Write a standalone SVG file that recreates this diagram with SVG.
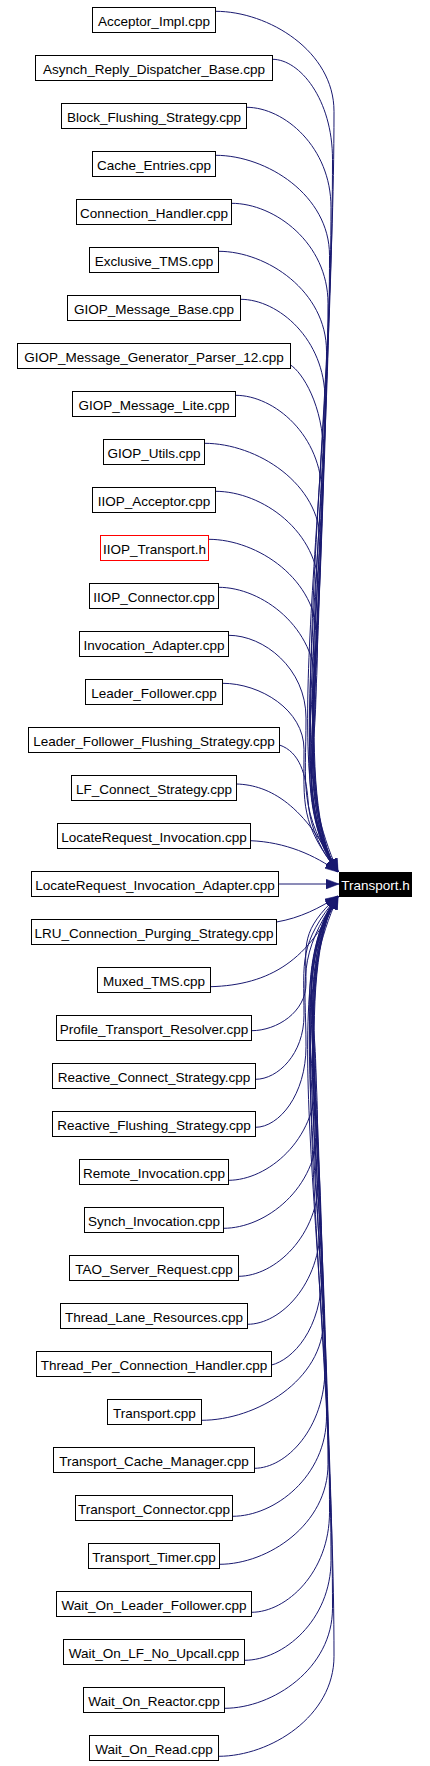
<svg xmlns="http://www.w3.org/2000/svg" width="430" height="1766" viewBox="0 0 430 1766">
<defs>
<style>
.n rect{fill:#fff;stroke:#000;stroke-width:1}
.n.red rect{stroke:#f00}
.n.root rect{fill:#000;stroke:#000}
.n text{font-family:"Liberation Sans",Arial,sans-serif;font-size:13.5px;text-anchor:middle;fill:#000}
.n.root text{fill:#fff}
.e path{fill:none;stroke:#191970;stroke-width:1;marker-end:url(#arr)}
</style>
<marker id="arr" markerUnits="userSpaceOnUse" markerWidth="13" markerHeight="10" viewBox="0 0 12 9" refX="12" refY="4.5" orient="auto">
<path d="M0,0 L12,4.5 L0,9 z" fill="#191970" stroke="#191970" stroke-width="0.5"/>
</marker>
</defs>
<rect width="430" height="1766" fill="#fff"/>
<g id="edges" class="e">
<path d="M215.5,11.3 C268.7,11.3 334,51.3 334,111.3 C334,453.6 278,800 338,872"/>
<path d="M272.5,59.3 C299.7,59.3 332.5,99.3 332.5,159.3 C332.5,480 284,800 338,872"/>
<path d="M246.5,107.3 C284.4,107.3 331,147.3 331,207.3 C331,506.4 274,800 338,872"/>
<path d="M215.5,155.3 C266.9,155.3 329.5,195.3 329.5,255.3 C329.5,532.8 288,800 338,872"/>
<path d="M231.5,203.3 C275,203.3 328,243.3 328,303.3 C328,559.2 280,800 338,872"/>
<path d="M218.5,251.3 C267,251.3 326.5,291.3 326.5,351.3 C326.5,585.6 292,800 338,872"/>
<path d="M240.5,299.3 C278.5,299.3 325,339.3 325,399.3 C325,612 284,800 338,872"/>
<path d="M290.5,365 C302,372 323.5,405 323.5,455 C323.5,642.7 290,800 338,872"/>
<path d="M235.5,395.3 C274.3,395.3 322,435.3 322,495.3 C322,664.8 294,800 338,872"/>
<path d="M204.5,443.3 C256.6,443.3 320.5,483.3 320.5,543.3 C320.5,691.2 286,800 338,872"/>
<path d="M215.5,491.3 C262,491.3 319,531.3 319,591.3 C319,717.6 292,800 338,872"/>
<path d="M208.5,539.3 C257.5,539.3 317.5,579.3 317.5,639.3 C317.5,744 298,779 338,872"/>
<path d="M218.5,587.3 C262,587.3 316,627.3 316,687.3 C316,770.4 296,798 338,872"/>
<path d="M228.5,635.3 C264,635.3 306,668.4 306,718 C306,787 298,810 338,872"/>
<path d="M222.5,683.3 C260,683.3 304,709.7 304,749.3 C304,804.3 300,823 338,872"/>
<path d="M279.5,745 C300,752 306,775 308,800 C310,830 322,852 338,872"/>
<path d="M236.5,784 C270,785 305,805 338,872"/>
<path d="M250.5,840.7 C285,842 315,855 338,872"/>
<path d="M278.5,884 L339,884"/>
<path d="M276.5,922 C300,918 320,908 338,896"/>
<path d="M210.5,986.7 C270,985 310,960 338,896"/>
<path d="M251.5,1030.7 C277,1030.7 306,1011.9 306,983.7 C306,944.2 300,931 338,896"/>
<path d="M255.5,1079.3 C278,1079.3 304,1053.7 304,1015.3 C304,961.6 298,944 338,896"/>
<path d="M255.5,1127.3 C279,1127.3 306,1094.9 306,1046.3 C306,978.7 296,956 338,896"/>
<path d="M228.5,1180.3 C267.4,1180.3 316,1140.3 316,1080.3 C316,997.4 296,969.7 338,896"/>
<path d="M223.5,1228.3 C265.7,1228.3 317.5,1188.3 317.5,1128.3 C317.5,1023.8 298,988.9 338,896"/>
<path d="M238.5,1276.3 C274.6,1276.3 319,1236.3 319,1176.3 C319,1050.2 292,968 338,896"/>
<path d="M247.5,1324.3 C280.5,1324.3 320.5,1284.3 320.5,1224.3 C320.5,1076.6 286,968 338,896"/>
<path d="M271.5,1365 C292,1360 322,1330 322,1272 C322,1103 294,968 338,896"/>
<path d="M201.5,1420.3 C256.1,1420.3 323.5,1380.3 323.5,1320.3 C323.5,1129.4 290,968 338,896"/>
<path d="M254.5,1468.3 C286.1,1468.3 325,1428.3 325,1368.3 C325,1155.8 284,968 338,896"/>
<path d="M232.5,1516.3 C274.7,1516.3 326.5,1476.3 326.5,1416.3 C326.5,1182.2 292,968 338,896"/>
<path d="M219.5,1564.3 C268.2,1564.3 328,1524.3 328,1464.3 C328,1208.6 280,968 338,896"/>
<path d="M251.5,1612.3 C286.5,1612.3 329.5,1572.3 329.5,1512.3 C329.5,1235 288,968 338,896"/>
<path d="M244.5,1660.3 C283.3,1660.3 331,1620.3 331,1560.3 C331,1261.4 274,968 338,896"/>
<path d="M224.5,1708.3 C273.1,1708.3 332.5,1668.3 332.5,1608.3 C332.5,1287.8 284,968 338,896"/>
<path d="M218.5,1756.3 C270.4,1756.3 334,1716.3 334,1656.3 C334,1314.2 278,968 338,896"/>
</g>
<g id="Acceptor_Impl_cpp" class="n"><rect x="92.5" y="7.5" width="123" height="25"/><text x="154" y="25.8">Acceptor_Impl.cpp</text></g>
<g id="Asynch_Reply_Dispatcher_Base_cpp" class="n"><rect x="35.5" y="55.5" width="237" height="25"/><text x="154" y="73.8">Asynch_Reply_Dispatcher_Base.cpp</text></g>
<g id="Block_Flushing_Strategy_cpp" class="n"><rect x="61.5" y="103.5" width="185" height="25"/><text x="154" y="121.8">Block_Flushing_Strategy.cpp</text></g>
<g id="Cache_Entries_cpp" class="n"><rect x="92.5" y="151.5" width="123" height="25"/><text x="154" y="169.8">Cache_Entries.cpp</text></g>
<g id="Connection_Handler_cpp" class="n"><rect x="76.5" y="199.5" width="155" height="25"/><text x="154" y="217.8">Connection_Handler.cpp</text></g>
<g id="Exclusive_TMS_cpp" class="n"><rect x="89.5" y="247.5" width="129" height="25"/><text x="154" y="265.8">Exclusive_TMS.cpp</text></g>
<g id="GIOP_Message_Base_cpp" class="n"><rect x="67.5" y="295.5" width="173" height="25"/><text x="154" y="313.8">GIOP_Message_Base.cpp</text></g>
<g id="GIOP_Message_Generator_Parser_12_cpp" class="n"><rect x="17.5" y="343.5" width="273" height="25"/><text x="154" y="361.8">GIOP_Message_Generator_Parser_12.cpp</text></g>
<g id="GIOP_Message_Lite_cpp" class="n"><rect x="72.5" y="391.5" width="163" height="25"/><text x="154" y="409.8">GIOP_Message_Lite.cpp</text></g>
<g id="GIOP_Utils_cpp" class="n"><rect x="103.5" y="439.5" width="101" height="25"/><text x="154" y="457.8">GIOP_Utils.cpp</text></g>
<g id="IIOP_Acceptor_cpp" class="n"><rect x="92.5" y="487.5" width="123" height="25"/><text x="154" y="505.8">IIOP_Acceptor.cpp</text></g>
<g id="IIOP_Transport_h" class="n red"><rect x="100.5" y="535.5" width="108" height="25"/><text x="154.5" y="553.8">IIOP_Transport.h</text></g>
<g id="IIOP_Connector_cpp" class="n"><rect x="89.5" y="583.5" width="129" height="25"/><text x="154" y="601.8">IIOP_Connector.cpp</text></g>
<g id="Invocation_Adapter_cpp" class="n"><rect x="79.5" y="631.5" width="149" height="25"/><text x="154" y="649.8">Invocation_Adapter.cpp</text></g>
<g id="Leader_Follower_cpp" class="n"><rect x="85.5" y="679.5" width="137" height="25"/><text x="154" y="697.8">Leader_Follower.cpp</text></g>
<g id="Leader_Follower_Flushing_Strategy_cpp" class="n"><rect x="28.5" y="727.5" width="251" height="25"/><text x="154" y="745.8">Leader_Follower_Flushing_Strategy.cpp</text></g>
<g id="LF_Connect_Strategy_cpp" class="n"><rect x="71.5" y="775.5" width="165" height="25"/><text x="154" y="793.8">LF_Connect_Strategy.cpp</text></g>
<g id="LocateRequest_Invocation_cpp" class="n"><rect x="57.5" y="823.5" width="193" height="25"/><text x="154" y="841.8">LocateRequest_Invocation.cpp</text></g>
<g id="LocateRequest_Invocation_Adapter_cpp" class="n"><rect x="31.5" y="871.5" width="247" height="25"/><text x="155" y="889.8">LocateRequest_Invocation_Adapter.cpp</text></g>
<g id="LRU_Connection_Purging_Strategy_cpp" class="n"><rect x="31.5" y="919.5" width="245" height="25"/><text x="154" y="937.8">LRU_Connection_Purging_Strategy.cpp</text></g>
<g id="Muxed_TMS_cpp" class="n"><rect x="97.5" y="967.5" width="113" height="25"/><text x="154" y="985.8">Muxed_TMS.cpp</text></g>
<g id="Profile_Transport_Resolver_cpp" class="n"><rect x="56.5" y="1015.5" width="195" height="25"/><text x="154" y="1033.8">Profile_Transport_Resolver.cpp</text></g>
<g id="Reactive_Connect_Strategy_cpp" class="n"><rect x="52.5" y="1063.5" width="203" height="25"/><text x="154" y="1081.8">Reactive_Connect_Strategy.cpp</text></g>
<g id="Reactive_Flushing_Strategy_cpp" class="n"><rect x="52.5" y="1111.5" width="203" height="25"/><text x="154" y="1129.8">Reactive_Flushing_Strategy.cpp</text></g>
<g id="Remote_Invocation_cpp" class="n"><rect x="79.5" y="1159.5" width="149" height="25"/><text x="154" y="1177.8">Remote_Invocation.cpp</text></g>
<g id="Synch_Invocation_cpp" class="n"><rect x="84.5" y="1207.5" width="139" height="25"/><text x="154" y="1225.8">Synch_Invocation.cpp</text></g>
<g id="TAO_Server_Request_cpp" class="n"><rect x="69.5" y="1255.5" width="169" height="25"/><text x="154" y="1273.8">TAO_Server_Request.cpp</text></g>
<g id="Thread_Lane_Resources_cpp" class="n"><rect x="60.5" y="1303.5" width="187" height="25"/><text x="154" y="1321.8">Thread_Lane_Resources.cpp</text></g>
<g id="Thread_Per_Connection_Handler_cpp" class="n"><rect x="36.5" y="1351.5" width="235" height="25"/><text x="154" y="1369.8">Thread_Per_Connection_Handler.cpp</text></g>
<g id="Transport_cpp" class="n"><rect x="107.5" y="1399.5" width="94" height="25"/><text x="154.5" y="1417.8">Transport.cpp</text></g>
<g id="Transport_Cache_Manager_cpp" class="n"><rect x="53.5" y="1447.5" width="201" height="25"/><text x="154" y="1465.8">Transport_Cache_Manager.cpp</text></g>
<g id="Transport_Connector_cpp" class="n"><rect x="75.5" y="1495.5" width="157" height="25"/><text x="154" y="1513.8">Transport_Connector.cpp</text></g>
<g id="Transport_Timer_cpp" class="n"><rect x="88.5" y="1543.5" width="131" height="25"/><text x="154" y="1561.8">Transport_Timer.cpp</text></g>
<g id="Wait_On_Leader_Follower_cpp" class="n"><rect x="56.5" y="1591.5" width="195" height="25"/><text x="154" y="1609.8">Wait_On_Leader_Follower.cpp</text></g>
<g id="Wait_On_LF_No_Upcall_cpp" class="n"><rect x="63.5" y="1639.5" width="181" height="25"/><text x="154" y="1657.8">Wait_On_LF_No_Upcall.cpp</text></g>
<g id="Wait_On_Reactor_cpp" class="n"><rect x="83.5" y="1687.5" width="141" height="25"/><text x="154" y="1705.8">Wait_On_Reactor.cpp</text></g>
<g id="Wait_On_Read_cpp" class="n"><rect x="89.5" y="1735.5" width="129" height="25"/><text x="154" y="1753.8">Wait_On_Read.cpp</text></g>
<g id="Transport_h" class="n root"><rect x="339.5" y="872.5" width="72" height="24"/><text x="375.5" y="889.8">Transport.h</text></g>
</svg>
